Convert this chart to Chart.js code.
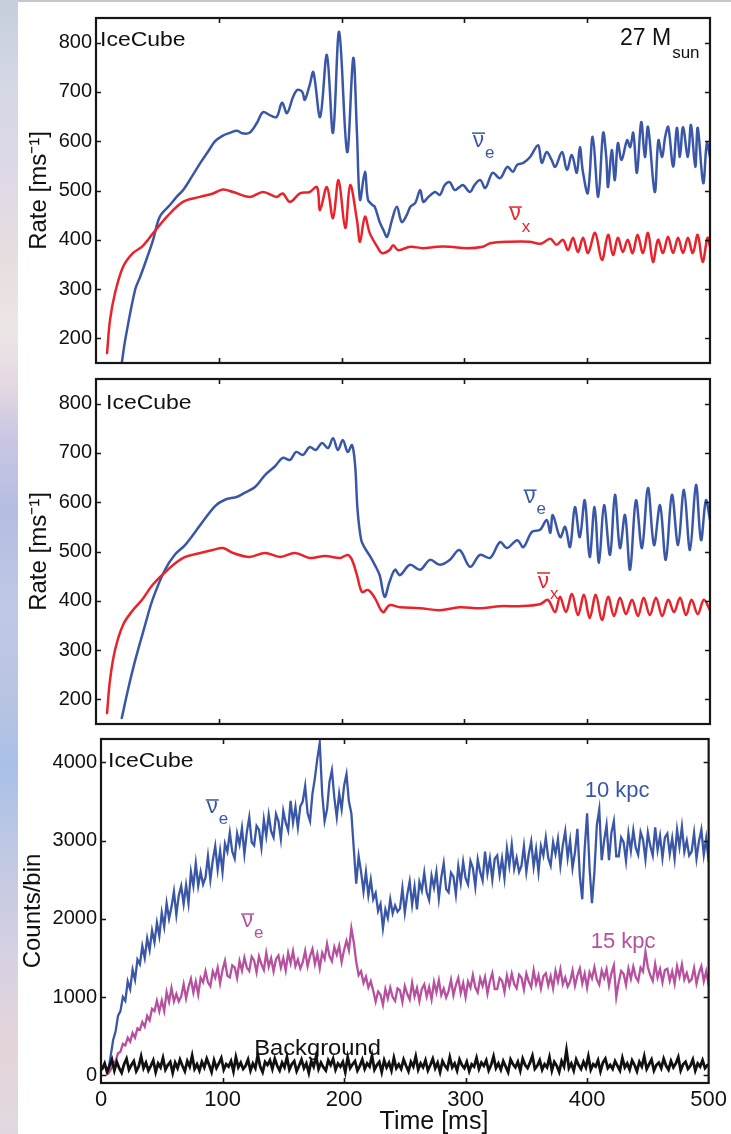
<!DOCTYPE html>
<html>
<head>
<meta charset="utf-8">
<title>IceCube supernova neutrino rates</title>
<script src="https://cdn.jsdelivr.net/npm/chart.js@4.4.1/dist/chart.umd.min.js"></script>
<style>
  html, body { margin: 0; padding: 0; background: #ffffff; }
  body { position: relative; width: 731px; height: 1134px; overflow: hidden; }
  .edge { position: absolute; left: 0; top: 0; width: 18px; height: 1134px;
    background: linear-gradient(180deg, #c6cfdc 0px, #d6d8e6 90px, #ddd8e8 160px, #e8dedf 260px, #ede6e6 330px,
      #e4d8e2 385px, #c9c6e2 440px, #b5bde2 510px, #bfc9e5 610px, #b9c4e2 700px, #a9c0e8 765px,
      #c2c9e2 860px, #d8d1e2 960px, #e5d5da 1050px, #e0d8e1 1134px); }
  .rule { position: absolute; left: 18px; right: 0; top: 0; height: 2px; background: #c3c6cc; }
  canvas { position: absolute; left: 0; top: 0; }
</style>
</head>
<body>
<div class="edge"></div>
<div class="rule"></div>
<canvas id="rateTop" width="731" height="1134"></canvas>
<canvas id="rateMid" width="731" height="1134"></canvas>
<canvas id="counts" width="731" height="1134"></canvas>
<script>
const W = 731, H = 1134;
const FONT = "'Liberation Sans', Arial, Helvetica, sans-serif";
const BLUE = '#3a57a7', RED = '#e8232b', MAGENTA = '#b6509f', BLACK = '#111111';

// ---- 27 Msun, observer 1: event rate [1/ms] ----
const rateTimeE1 = [21,24,32,36,41.5,46.5,52,60,66,71,78,85,91,97,103,109,115,119,125,131,136,141.5,147,151.5,155.5,160.5,164,168,170,174,177,182.5,188,193,198,204.5,209.5,212.5,215,219,221.5,225,227,231,234,237,241,245,249,253,256,260,264,266.5,270,276,280,284,288,292,296,299,304.5,308.5,313,317,323,329,335,339.5,343,348,353.5,360,363,367,371,374,379.5,383.5,387.5,391.5,394,396.5,400.5,404.5,409,413,415.5,417,420,422.5,425,428,432.5,435,437.5,440.5,444,447,449.5,455,458,461,463.5,466,470,473,475.5,478,482,484.5,488,490,494.5,497.5,500];
const rateE1 = [150,200,300,325,363,400,447,470,488,501,528,556,578,600,611,617,621,616,617,637,659,653,649,678,657,690,704,700,684,714,740,649,775,617,822,578,769,617,481,538,481,471,467,436,420,406,440,467,436,450,467,475,501,477,485,497,491,511,517,501,507,511,497,512,521,505,536,525,548,538,552,556,568,592,556,578,562,548,578,542,572,536,588,538,495,609,487,617,568,507,582,521,596,562,602,588,617,536,639,568,629,497,602,568,609,629,548,627,568,629,568,633,548,627,515,596,568];
const rateTimeX1 = [9,11.4,15.5,22,30,37.5,46.4,57.8,70.8,84.7,95.3,103.4,111.6,125.4,136,147,152,158,166,174,180,182.4,188,193,197.5,203,207,212.5,215,219,223,229,233,239,242,246,256,266,278,288,302,315,321,337,353,362,370,375,380.3,384.4,388.4,392.5,396.6,400.7,406.4,412,417,421,425,429,433,437,441,445.4,449.5,453.6,457.7,461.7,465.8,469.9,474,478,482,486,490,494,498,500];
const rateX1 = [170,237,292,345,373,386,413,447,477,487,494,502,497,487,497,487,494,477,494,497,507,460,507,444,521,424,511,440,396,447,413,386,373,379,389,379,386,383,386,386,383,386,393,396,396,392,402,390,400,379,404,375,404,373,414,359,410,369,404,375,400,373,410,373,414,355,400,373,406,373,404,373,404,373,410,355,404,386];

// ---- 27 Msun, observer 2: event rate [1/ms] ----
const rateTimeE2 = [21,26,32,40,46,56,64,72.5,85,97,105,115,121,129.5,137.6,145.8,152,158,163,168.6,174,179,184,189,193,197,201,205,208.5,211,213,216,219,223,227,231,235,239,243.5,247.5,255.7,264,272,280,288,296,304.6,312.7,321,329,334.7,343,348,355,361.6,367,370,372,378,382,386,390,394,398,402,406,409.6,413.7,418.6,422.6,426.7,430.8,434.9,439.7,444.6,449.5,454.4,459.3,464,469,474,478.8,483.7,488.6,492.7,496.7,500];
const rateE2 = [162,219,280,351,402,462,493,513,554,592,605,611,619,631,655,673,690,686,702,696,712,706,720,710,730,706,726,702,716,675,584,523,507,491,473,452,408,438,463,452,473,463,483,473,483,503,469,493,487,519,507,523,509,540,544,564,538,574,529,550,509,590,529,604,489,590,477,594,493,615,507,574,463,604,507,629,513,594,483,615,513,625,503,635,523,604,564];
const rateTimeX2 = [9,11.4,15.5,22,30,37.5,46,58,71,85,95,103.4,111.6,125,137.6,150,162,174,186.5,199,205,208.5,212.5,216.6,221.5,227,233.7,239,247.5,264,280,296,313,329,345,361.6,368,373.8,377.9,382.7,387.6,392.5,397.4,402,407,412,417,421.8,426.7,431.6,436.5,441.4,446,451,456,461,466,470.7,475.6,480.5,485,490,495,500];
const rateX2 = [172,239,300,351,381,402,432,462,487,497,503,507,497,489,497,489,497,487,491,487,493,483,452,418,422,406,377,391,387,385,381,387,385,389,389,393,402,377,408,377,414,371,412,365,412,361,408,369,406,373,402,369,406,371,406,369,402,377,406,371,402,373,402,381];

// ---- simulated IceCube counts per 2 ms bin ----
const signalBinStart = 6, signalBinWidth = 2;          // ms
const counts10kpc = [
  60,250,450,560,760,820,1000,950,1200,1100,
  1350,1220,1480,1420,1650,1500,1750,1600,1850,1700,
  1950,1780,2080,1900,2200,2000,2150,2350,2050,2300,
  2420,2190,2430,2200,2600,2420,2710,2420,2600,2440,
  2530,2800,2500,2750,2930,2630,2870,2600,2960,2860,
  3100,2860,2770,3090,2950,3160,2830,3110,3300,2980,
  2940,3190,3140,2910,3270,3060,3330,3120,3040,3340,
  3250,3020,3380,3230,3130,3510,3230,3430,3170,3440,
  3500,3700,3350,3250,3600,3800,4050,4250,3600,3250,
  3400,3750,3900,3550,3300,3600,3400,3700,3850,3500,
  3350,2900,2450,2800,2600,2350,2600,2300,2500,2250,
  2330,2100,2190,1880,2120,2010,2250,2070,2170,2090,
  2130,2390,2080,2310,2480,2180,2410,2120,2470,2360,
  2590,2340,2240,2550,2400,2600,2260,2530,2710,2380,
  2340,2590,2540,2310,2670,2460,2730,2520,2440,2740,
  2650,2410,2760,2600,2490,2860,2580,2770,2500,2770,
  2810,2560,2770,2520,2900,2680,2950,2640,2780,2600,
  2680,2930,2600,2830,2990,2670,2890,2600,2930,2810,
  3040,2780,2680,2980,2830,3020,2680,2940,3120,2780,
  3000,2650,2850,3150,2550,2250,2900,3350,2650,2200,
  2600,3200,3400,2750,3000,3200,2750,3100,3250,2800,
  2800,3040,2980,2740,3090,2870,3130,2910,2820,3110,
  3010,2760,3100,2930,2810,3170,2880,3060,2780,3040,
  3090,2830,3030,2770,3140,2920,3180,2860,3000,2810,
  2860,3100,2770,2990,3140,2820,3030,2730];
const counts15kpc = [
  20,70,150,180,280,300,400,380,480,430,
  540,480,600,580,680,620,760,700,850,820,
  952,816,956,820,1062,940,1116,944,1038,944,
  1006,1165,982,1129,1234,1057,1198,1033,1246,1188,
  1330,1189,1138,1328,1247,1376,1176,1347,1464,1270,
  1250,1404,1378,1244,1459,1337,1503,1376,1332,1516,
  1466,1316,1520,1418,1346,1562,1388,1496,1328,1484,
  1532,1376,1496,1340,1562,1430,1586,1394,1478,1364,
  1446,1590,1392,1524,1614,1422,1548,1368,1566,1488,
  1680,1524,1458,1638,1542,1656,1446,1602,1720,1600,
  1880,1700,1450,1280,1330,1180,1260,1120,1200,1080,
  940,1070,1030,900,1100,980,1120,1000,950,1110,
  1086,936,1140,1038,966,1182,1008,1116,948,1104,
  1162,1006,1126,970,1192,1060,1216,1024,1108,994,
  1076,1220,1022,1154,1244,1052,1178,998,1196,1118,
  1280,1124,1058,1238,1142,1256,1046,1202,1304,1100,
  1100,1244,1208,1064,1274,1142,1298,1166,1112,1286,
  1246,1096,1300,1198,1126,1342,1168,1276,1108,1264,
  1302,1146,1266,1110,1332,1200,1356,1164,1248,1134,
  1196,1340,1142,1274,1364,1172,1298,1118,1316,1238,
  1380,1224,1158,1338,1242,1356,1146,1302,1404,1000,
  1190,1334,1298,1154,1364,1232,1388,1256,1202,1376,
  1326,1580,1380,1278,1206,1422,1248,1356,1188,1344,
  1362,1206,1326,1170,1392,1260,1416,1224,1308,1194,
  1226,1370,1172,1304,1394,1202,1328,1148];
const bgBinStart = 1, bgBinWidth = 2;                  // ms
const countsBackground = [
  80,150,40,120,200,60,170,90,30,140,
  210,70,130,180,50,110,240,90,160,60,
  120,190,40,150,100,220,70,130,170,30,
  160,90,200,120,50,180,110,250,80,140,
  60,170,100,210,130,40,190,90,150,220,
  70,140,110,180,50,230,100,160,80,120,
  200,60,150,90,260,110,40,170,130,190,
  80,210,120,60,160,100,230,70,140,180,
  50,120,200,90,150,30,180,110,240,80,
  160,100,60,190,130,210,70,150,110,170,
  40,230,90,140,180,60,120,200,80,150,
  110,250,70,130,170,40,190,100,160,60,
  220,90,140,80,200,120,50,170,110,240,
  70,150,100,190,60,130,210,90,160,40,
  180,120,80,230,100,150,60,200,130,90,
  170,50,140,110,220,80,160,120,190,60,
  130,240,90,150,70,180,110,40,200,140,
  100,170,60,210,130,90,160,250,80,120,
  190,70,140,100,230,60,170,120,40,180,
  110,320,90,150,60,200,130,80,170,100,
  240,70,140,110,190,50,160,210,90,130,
  80,180,120,60,220,100,150,70,190,130,
  50,170,110,240,80,140,200,60,130,160,
  90,210,120,70,180,100,150,230,60,140,
  170,80,120,200,60,150,110,190,90,130];

// axis ticks
const timeTicks = [0, 100, 200, 300, 400, 500];
const rateTicks = [200, 300, 400, 500, 600, 700, 800];
const countTicks = [0, 1000, 2000, 3000, 4000];

Chart.defaults.font.family = FONT;
Chart.defaults.color = BLACK;

const pairs = (times, values) => times.map((t, i) => ({ x: t, y: values[i] }));
const bins = (start, width, values) => values.map((v, i) => ({ x: start + i * width, y: v }));

function drawText(ctx, s, x, y, size, color, sx) {
  ctx.save();
  ctx.translate(x, y);
  ctx.scale(sx || 1, 1);
  ctx.font = size + 'px ' + FONT;
  ctx.fillStyle = color;
  ctx.textBaseline = 'alphabetic';
  ctx.textAlign = 'left';
  ctx.fillText(s, 0, 0);
  const w = ctx.measureText(s).width * (sx || 1);
  ctx.restore();
  return w;
}

function drawMark(chart, m) {
  const { ctx, chartArea: a, scales } = chart;
  let x, y;
  if (m.at) { x = scales.x.getPixelForValue(m.at[0]); y = scales.y.getPixelForValue(m.at[1]); }
  else { x = m.dx >= 0 ? a.left + m.dx : a.right + m.dx; y = a.top + m.dy; }
  const w = drawText(ctx, m.text, x, y, m.size, m.color, m.sx);
  if (m.bar) {
    ctx.save();
    ctx.strokeStyle = m.color; ctx.lineWidth = 1.5;
    ctx.beginPath(); ctx.moveTo(x - 1, y - m.bar); ctx.lineTo(x + w + 1, y - m.bar); ctx.stroke();
    ctx.restore();
  }
  if (m.sub) drawText(ctx, m.sub, x + w + (m.subGap || 1), y + m.subDy, m.subSize, m.color, m.sx);
}

// box frame with inward ticks, plus the panel's text labels
function framePlugin(marks, xTitle) {
  return {
    id: 'frame',
    afterDraw(chart) {
      const { ctx, chartArea: a, scales } = chart;
      const len = 5;
      ctx.save();
      ctx.strokeStyle = '#161616';
      ctx.lineWidth = 1.6;
      ctx.beginPath();
      scales.x.ticks.forEach(t => {
        const p = Math.round(scales.x.getPixelForValue(t.value)) + 0.5;
        if (p < a.left + 3 || p > a.right - 3) return;
        ctx.moveTo(p, a.top); ctx.lineTo(p, a.top + len);
        ctx.moveTo(p, a.bottom); ctx.lineTo(p, a.bottom - len);
      });
      scales.y.ticks.forEach(t => {
        const p = Math.round(scales.y.getPixelForValue(t.value)) + 0.5;
        if (p < a.top + 3 || p > a.bottom - 3) return;
        ctx.moveTo(a.left, p); ctx.lineTo(a.left + len, p);
        ctx.moveTo(a.right, p); ctx.lineTo(a.right - len, p);
      });
      ctx.stroke();
      ctx.lineWidth = 2.2;
      ctx.strokeRect(a.left, a.top, a.right - a.left, a.bottom - a.top);
      ctx.restore();
      marks.forEach(m => drawMark(chart, m));
      if (xTitle) {
        ctx.save();
        ctx.font = xTitle.size + 'px ' + FONT;
        ctx.fillStyle = BLACK;
        ctx.textAlign = 'center';
        ctx.textBaseline = 'alphabetic';
        ctx.fillText(xTitle.text, xTitle.cx, xTitle.baseline);
        ctx.restore();
      }
    }
  };
}

function makePanel(id, area, yMin, yMax, yTickList, yTitle, yTitlePad, datasets, marks, xTitle) {
  const showTimeLabels = !!xTitle;
  return new Chart(document.getElementById(id), {
    type: 'line',
    data: { datasets },
    options: {
      responsive: false,
      animation: false,
      devicePixelRatio: 1,
      parsing: false,
      layout: { padding: { left: 0, top: area.top, right: W - area.right, bottom: showTimeLabels ? 0 : H - area.bottom } },
      plugins: { legend: { display: false }, tooltip: { enabled: false } },
      elements: { point: { radius: 0 }, line: { borderWidth: 2.5, borderJoinStyle: 'round', borderCapStyle: 'round' } },
      scales: {
        x: {
          type: 'linear', min: timeTicks[0], max: timeTicks[timeTicks.length - 1],
          grid: { display: false, drawTicks: false }, border: { display: false },
          afterBuildTicks: s => { s.ticks = timeTicks.map(v => ({ value: v })); },
          ticks: { display: showTimeLabels, padding: 4, font: { size: 22 }, color: BLACK, maxRotation: 0, autoSkip: false,
                   callback: v => String(v) },
          afterFit: s => { s.height = showTimeLabels ? H - area.bottom : 0; }
        },
        y: {
          type: 'linear', min: yMin, max: yMax,
          grid: { display: false, drawTicks: false }, border: { display: false },
          afterBuildTicks: s => { s.ticks = yTickList.map(v => ({ value: v })); },
          ticks: { padding: 4, font: { size: 20 }, color: BLACK, autoSkip: false, callback: v => String(v) },
          title: { display: true, text: yTitle, font: { size: 24 }, color: BLACK, padding: { top: yTitlePad, bottom: 0 } },
          afterFit: s => { s.width = area.left; }
        }
      }
    },
    plugins: [framePlugin(marks, xTitle)]
  });
}

const smooth = { tension: 0.35 };

makePanel('rateTop', { left: 96, top: 18, right: 710, bottom: 363 }, 150, 850, rateTicks, 'Rate [ms⁻¹]', 24.5, [
  Object.assign({ label: 'ν̄x', data: pairs(rateTimeX1, rateX1), borderColor: RED }, smooth),
  Object.assign({ label: 'ν̄e', data: pairs(rateTimeE1, rateE1), borderColor: BLUE }, smooth)
], [
  { text: 'IceCube', dx: 4, dy: 28, size: 20, sx: 1.15, color: BLACK },
  { text: '27 M', dx: -90, dy: 27, size: 23, color: BLACK, sub: 'sun', subSize: 17, subDy: 13, subGap: 1 },
  { text: 'ν', at: [307, 588], size: 22, color: BLUE, bar: 14, sub: 'e', subSize: 17, subDy: 11 },
  { text: 'ν', at: [337, 440], size: 22, color: RED, bar: 13, sub: 'x', subSize: 17, subDy: 12 }
], null);

makePanel('rateMid', { left: 96, top: 379, right: 710, bottom: 724 }, 150, 850, rateTicks, 'Rate [ms⁻¹]', 24.5, [
  Object.assign({ label: 'ν̄x', data: pairs(rateTimeX2, rateX2), borderColor: RED }, smooth),
  Object.assign({ label: 'ν̄e', data: pairs(rateTimeE2, rateE2), borderColor: BLUE }, smooth)
], [
  { text: 'IceCube', dx: 10, dy: 30, size: 20, sx: 1.15, color: BLACK },
  { text: 'ν', at: [349, 598], size: 22, color: BLUE, bar: 13, sub: 'e', subSize: 17, subDy: 11 },
  { text: 'ν', at: [360, 426], size: 22, color: RED, bar: 15, sub: 'x', subSize: 17, subDy: 11 }
], null);

makePanel('counts', { left: 101, top: 739, right: 712, bottom: 1083 }, -100, 4300, countTicks, 'Counts/bin', 18.5, [
  { label: 'Background', data: bins(bgBinStart, bgBinWidth, countsBackground), borderColor: BLACK, borderWidth: 2.8, borderJoinStyle: 'miter' },
  { label: '15 kpc', data: bins(signalBinStart, signalBinWidth, counts15kpc), borderColor: MAGENTA, borderWidth: 2.3, borderJoinStyle: 'miter' },
  { label: '10 kpc', data: bins(signalBinStart, signalBinWidth, counts10kpc), borderColor: BLUE, borderWidth: 2.3, borderJoinStyle: 'miter' }
], [
  { text: 'IceCube', dx: 7, dy: 28, size: 20, sx: 1.15, color: BLACK },
  { text: 'ν', at: [87, 3354], size: 22, color: BLUE, bar: 13, sub: 'e', subSize: 17, subDy: 11 },
  { text: 'ν', at: [116, 1895], size: 22, color: MAGENTA, bar: 13, sub: 'e', subSize: 17, subDy: 11 },
  { text: '10 kpc', at: [398, 3558], size: 22, color: BLUE },
  { text: '15 kpc', at: [403, 1627], size: 22, color: MAGENTA },
  { text: 'Background', at: [126, 258], size: 22, sx: 1.08, color: BLACK }
], { text: 'Time [ms]', size: 25, cx: 434, baseline: 1129 });
</script>
</body>
</html>
